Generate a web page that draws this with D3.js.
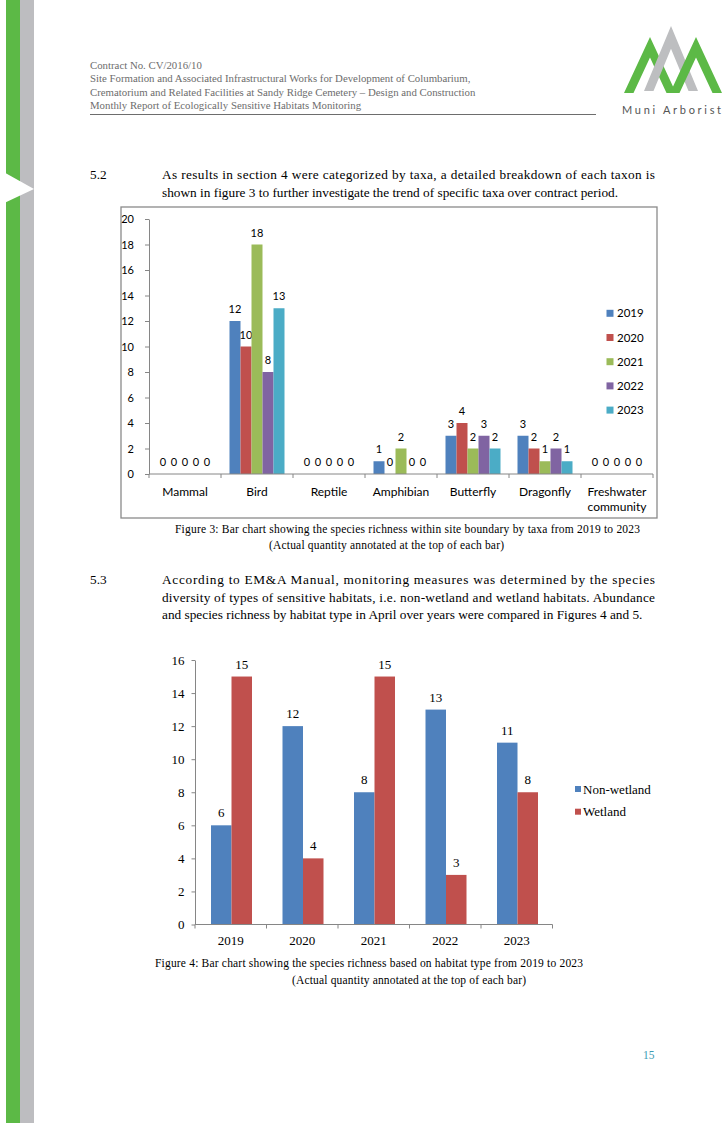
<!DOCTYPE html>
<html><head><meta charset="utf-8">
<script src="https://cdn.jsdelivr.net/npm/d3@7"></script>
<style>body{margin:0;background:#fff}svg{display:block}</style>
</head><body>
<svg id="page" width="725" height="1123"></svg>
<script>
// ---------- DATA ----------
const taxa = ["Mammal", "Bird", "Reptile", "Amphibian", "Butterfly", "Dragonfly", "Freshwater community"];
const years = ["2019", "2020", "2021", "2022", "2023"];
const taxa2019 = [0, 12, 0, 1, 3, 3, 0];
const taxa2020 = [0, 10, 0, 0, 4, 2, 0];
const taxa2021 = [0, 18, 0, 2, 2, 1, 0];
const taxa2022 = [0, 8, 0, 0, 3, 2, 0];
const taxa2023 = [0, 13, 0, 0, 2, 1, 0];
const taxaYTicks = [0, 2, 4, 6, 8, 10, 12, 14, 16, 18, 20];

const habitatYears = ["2019", "2020", "2021", "2022", "2023"];
const habitats = ["Non-wetland", "Wetland"];
const nonWetland = [6, 12, 8, 13, 11];
const wetland = [15, 4, 15, 3, 8];
const habitatYTicks = [0, 2, 4, 6, 8, 10, 12, 14, 16];

// ---------- PAGE ----------
const svg = d3.select("#page");
svg.append("rect").attr("width", 725).attr("height", 1123).attr("fill", "#fff");

// side strips
svg.append("rect").attr("x", 6).attr("y", 0).attr("width", 14).attr("height", 1123).attr("fill", "#5cb946");
svg.append("rect").attr("x", 20).attr("y", 0).attr("width", 14).attr("height", 1123).attr("fill", "#bdbdc0");
svg.append("path").attr("d", "M0,170 L34,189 L0,205 Z").attr("fill", "#fff");

const SERIF = "'Liberation Serif','Times New Roman',serif";
const SANS = "Lato,'Liberation Sans',sans-serif";

function txt(g, x, y, s, o = {}) {
  const t = g.append("text").attr("x", x).attr("y", y).text(s)
    .attr("font-family", o.family || SERIF)
    .attr("font-size", o.size || 13)
    .attr("fill", o.fill || "#000");
  if (o.anchor) t.attr("text-anchor", o.anchor);
  if (o.len) t.attr("textLength", o.len).attr("lengthAdjust", "spacing");
  if (o.ls) t.attr("letter-spacing", o.ls);
  return t;
}

// header
const hdr = ["Contract No. CV/2016/10",
  "Site Formation and Associated Infrastructural Works for Development of Columbarium,",
  "Crematorium and Related Facilities at Sandy Ridge Cemetery \u2013 Design and Construction",
  "Monthly Report of Ecologically Sensitive Habitats Monitoring"];
const hdrY = [69, 82, 96, 109];
hdr.forEach((s, i) => txt(svg, 90, hdrY[i], s, {size: 10.8, fill: "#6d6d6d"}));
svg.append("line").attr("x1", 90).attr("x2", 596).attr("y1", 114.5).attr("y2", 114.5)
  .attr("stroke", "#6d6d6d").attr("stroke-width", 1);

// logo
function lam(lx, ax, rx, ay, by, w) {
  const h = ax - lx, H = by - ay;
  const iy = ay + H * w / h;
  return `M${lx},${by} L${ax},${ay} L${rx},${by} L${rx - w},${by} L${ax},${iy} L${lx + w},${by} Z`;
}
svg.append("path").attr("d", lam(624, 650, 676, 37, 93, 9.5)).attr("fill", "#5cb946");
svg.append("path").attr("d", lam(644, 671, 698, 26, 91, 9.5)).attr("fill", "#bdbec0");
svg.append("path").attr("d", lam(670, 696, 722, 37, 93, 9.5)).attr("fill", "#5cb946");
txt(svg, 622, 114, "Muni Arborist", {family: SANS, size: 11, fill: "#555", ls: 2.7});

// section 5.2
txt(svg, 90, 179, "5.2", {size: 13.3});
txt(svg, 162, 179, "As results in section 4 were categorized by taxa, a detailed breakdown of each taxon is", {size: 13.3, len: 493});
txt(svg, 162, 196.5, "shown in figure 3 to further investigate the trend of specific taxa over contract period.", {size: 13.3});

// ---------- CHART 1 ----------
svg.append("rect").attr("x", 121).attr("y", 207).attr("width", 536).attr("height", 311)
  .attr("fill", "#fff").attr("stroke", "#8a8a8a").attr("stroke-width", 1.3);

const c1 = svg.append("g");
const x0 = d3.scaleBand().domain(taxa).range([149, 653]);
const x1 = d3.scaleBand().domain(years).range([8.5, 63.5]);
const y1 = d3.scaleLinear().domain([0, 20]).range([474, 219]);
const yearColors = d3.scaleOrdinal().domain(years).range(["#4f81bd", "#c0504d", "#9bbb59", "#8064a2", "#4bacc6"]);
const taxaSeries = [taxa2019, taxa2020, taxa2021, taxa2022, taxa2023];

taxaSeries.forEach((vals, si) => {
  const yr = years[si];
  const g = c1.append("g");
  g.selectAll("rect").data(taxa).join("rect")
    .attr("x", (d) => x0(d) + x1(yr))
    .attr("y", (d, i) => y1(vals[i]))
    .attr("width", x1.bandwidth())
    .attr("height", (d, i) => y1(0) - y1(vals[i]))
    .attr("fill", yearColors(yr));
  g.selectAll("text").data(taxa).join("text")
    .attr("x", (d) => x0(d) + x1(yr) + x1.bandwidth() / 2)
    .attr("y", (d, i) => y1(vals[i]) - 8)
    .attr("text-anchor", "middle")
    .attr("font-family", SANS).attr("font-size", 11).attr("fill", "#000")
    .text((d, i) => vals[i]);
});

const ax1 = c1.append("g").attr("transform", "translate(149,0)")
  .call(d3.axisLeft(y1).tickValues(taxaYTicks).tickSize(4).tickSizeOuter(0).tickPadding(11));
ax1.selectAll("path,line").attr("stroke", "#868686");
ax1.selectAll("text").attr("font-family", SANS).attr("font-size", 11).attr("fill", "#000");

// category axis
c1.append("line").attr("x1", 149).attr("x2", 653).attr("y1", y1(0)).attr("y2", y1(0)).attr("stroke", "#868686");
const bounds1 = taxa.map((d) => x0(d)).concat([x0.range()[1]]);
c1.selectAll("line.tk").data(bounds1).join("line").attr("class", "tk")
  .attr("x1", (d) => d).attr("x2", (d) => d).attr("y1", y1(0)).attr("y2", y1(0) + 4).attr("stroke", "#868686");
taxa.forEach((d) => {
  d.split(" ").forEach((w, li) => {
    txt(c1, x0(d) + x0.bandwidth() / 2, 496 + li * 15, w, {family: SANS, size: 12, anchor: "middle"});
  });
});

// legend 1
years.forEach((yr, i) => {
  const cy = 313.3 + i * 24.2;
  c1.append("rect").attr("x", 606.5).attr("y", cy - 3.5).attr("width", 7).attr("height", 7).attr("fill", yearColors(yr));
  txt(c1, 617, cy + 4, yr, {family: SANS, size: 11.5});
});

// caption 1
txt(svg, 175, 533, "Figure 3: Bar chart showing the species richness within site boundary by taxa from 2019 to 2023", {size: 11.5, len: 465});
txt(svg, 269, 549, "(Actual quantity annotated at the top of each bar)", {size: 11.5, len: 235});

// section 5.3
txt(svg, 90, 584, "5.3", {size: 13.3});
txt(svg, 162, 584, "According to EM&A Manual, monitoring measures was determined by the species", {size: 13.3, len: 493});
txt(svg, 162, 601.5, "diversity of types of sensitive habitats, i.e. non-wetland and wetland habitats. Abundance", {size: 13.3, len: 493});
txt(svg, 162, 619, "and species richness by habitat type in April over years were compared in Figures 4 and 5.", {size: 13.3});

// ---------- CHART 2 ----------
const c2 = svg.append("g");
const hx0 = d3.scaleBand().domain(habitatYears).range([195, 552.5]);
const hx1 = d3.scaleBand().domain(habitats).range([16, 57]);
const hy = d3.scaleLinear().domain([0, 16]).range([924.5, 660]);
const habColors = d3.scaleOrdinal().domain(habitats).range(["#4f81bd", "#c0504d"]);
[nonWetland, wetland].forEach((vals, si) => {
  const hb = habitats[si];
  const g = c2.append("g");
  g.selectAll("rect").data(habitatYears).join("rect")
    .attr("x", (d) => hx0(d) + hx1(hb))
    .attr("y", (d, i) => hy(vals[i]))
    .attr("width", hx1.bandwidth())
    .attr("height", (d, i) => hy(0) - hy(vals[i]))
    .attr("fill", habColors(hb));
  g.selectAll("text").data(habitatYears).join("text")
    .attr("x", (d) => hx0(d) + hx1(hb) + hx1.bandwidth() / 2)
    .attr("y", (d, i) => hy(vals[i]) - 8)
    .attr("text-anchor", "middle")
    .attr("font-family", SERIF).attr("font-size", 13).attr("fill", "#000")
    .text((d, i) => vals[i]);
});
const ax2 = c2.append("g").attr("transform", "translate(195,0)")
  .call(d3.axisLeft(hy).tickValues(habitatYTicks).tickSize(3.5).tickSizeOuter(0).tickPadding(7));
ax2.selectAll("path,line").attr("stroke", "#868686");
ax2.selectAll("text").attr("font-family", SERIF).attr("font-size", 13).attr("fill", "#000");
c2.append("line").attr("x1", 195).attr("x2", 552.5).attr("y1", hy(0)).attr("y2", hy(0)).attr("stroke", "#868686");
const bounds2 = habitatYears.map((d) => hx0(d)).concat([hx0.range()[1]]);
c2.selectAll("line.tk").data(bounds2).join("line").attr("class", "tk")
  .attr("x1", (d) => d).attr("x2", (d) => d).attr("y1", hy(0)).attr("y2", hy(0) + 4).attr("stroke", "#868686");
habitatYears.forEach((d) => txt(c2, hx0(d) + hx0.bandwidth() / 2, 945, d, {size: 13, anchor: "middle"}));

// legend 2
habitats.forEach((hb, i) => {
  const cy = 789 + i * 22.7;
  c2.append("rect").attr("x", 575).attr("y", cy - 3).attr("width", 6).attr("height", 6).attr("fill", habColors(hb));
  txt(c2, 583, cy + 4.5, hb, {size: 13});
});

// caption 2
txt(svg, 155, 967, "Figure 4: Bar chart showing the species richness based on habitat type from 2019 to 2023", {size: 11.5, len: 428});
txt(svg, 292, 983.5, "(Actual quantity annotated at the top of each bar)", {size: 11.5, len: 234});

// page number
txt(svg, 643, 1059, "15", {size: 11.5, fill: "#3d9bb3"});
</script>
</body></html>
